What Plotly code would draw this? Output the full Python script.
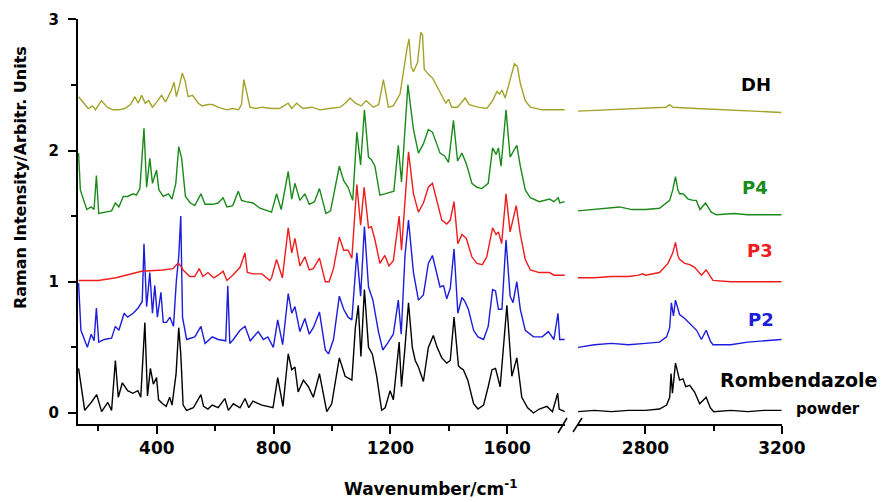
import plotly.graph_objects as go

# ---------------- data ----------------
# Rombendazole powder (black)
black_xl = [132,153,175,194,211,232,245,258,268,282,300,318,335,345,359,368,378,388,399,406,420,432,444,452,466,475,482,490,502,525,551,560,575,590,610,633,645,662,685,702,715,729,760,798,814,832,850,862,873,884,902,919,936,957,982,999,1025,1045,1068,1080,1090,1099,1111,1125,1138,1153,1170,1182,1199,1210,1230,1238,1250,1262,1275,1285,1296,1313,1330,1347,1360,1376,1393,1405,1418,1433,1442,1450,1465,1485,1500,1519,1535,1548,1560,1576,1599,1616,1633,1650,1670,1690,1710,1736,1755,1773,1778,1797]
black_yl = [0.34,0.02,0.08,0.14,0.01,0.08,0.02,0.40,0.12,0.23,0.17,0.15,0.17,0.12,0.69,0.13,0.34,0.22,0.27,0.10,0.07,0.05,0.12,0.06,0.30,0.65,0.45,0.06,0.02,0.04,0.14,0.05,0.03,0.06,0.04,0.11,0.02,0.07,0.04,0.11,0.04,0.09,0.06,0.04,0.27,0.05,0.45,0.33,0.35,0.16,0.25,0.20,0.12,0.30,0.01,0.07,0.42,0.28,0.25,0.65,0.82,0.43,0.94,0.50,0.45,0.28,0.02,0.04,0.17,0.10,0.54,0.20,0.50,0.84,0.50,0.40,0.35,0.24,0.50,0.59,0.50,0.42,0.38,0.40,0.73,0.36,0.34,0.33,0.25,0.07,0.03,0.06,0.20,0.33,0.34,0.20,0.82,0.28,0.42,0.12,0.04,0.00,0.03,0.05,0.01,0.15,0.03,0.01]
black_xr = [2602,2650,2700,2750,2800,2841,2862,2871,2875,2879,2888,2893,2900,2910,2918,2930,2944,2959,2978,2990,3000,3050,3100,3150,3199]
black_yr = [0.01,0.02,0.01,0.02,0.02,0.03,0.06,0.12,0.30,0.15,0.38,0.33,0.25,0.26,0.20,0.21,0.16,0.07,0.12,0.04,0.01,0.02,0.01,0.02,0.02]

# P2 (blue)
p2_xl = [132,140,162,175,185,193,201,220,245,258,270,288,300,319,336,350,356,365,376,385,393,402,414,422,433,445,457,467,475,482,488,502,530,551,565,590,610,636,643,650,662,685,702,720,747,765,780,799,814,831,850,862,873,890,907,922,936,957,977,988,1005,1025,1040,1055,1068,1085,1098,1111,1125,1140,1159,1174,1190,1210,1227,1237,1250,1262,1279,1296,1313,1330,1344,1355,1370,1382,1393,1405,1418,1431,1445,1455,1467,1485,1500,1519,1535,1550,1560,1570,1582,1596,1610,1620,1633,1645,1662,1690,1720,1741,1760,1774,1780,1797]
p2_yl = [0.99,0.63,0.50,0.60,0.55,0.80,0.54,0.56,0.57,0.66,0.63,0.76,0.73,0.76,0.80,0.85,1.29,0.81,1.07,0.76,0.97,0.73,0.92,0.69,0.69,0.73,0.66,1.01,1.19,1.50,0.73,0.56,0.58,0.66,0.53,0.58,0.56,0.55,0.97,0.53,0.56,0.63,0.66,0.55,0.62,0.56,0.58,0.50,0.71,0.52,0.91,0.76,0.81,0.62,0.72,0.60,0.65,0.77,0.48,0.45,0.56,0.89,0.79,0.73,0.71,1.22,0.89,1.42,0.96,0.86,0.62,0.48,0.53,0.60,0.86,0.60,1.20,1.47,1.07,0.86,0.90,1.14,1.20,1.10,0.96,0.97,0.87,0.95,1.25,0.76,0.88,0.85,0.79,0.63,0.58,0.56,0.66,0.94,0.93,0.79,0.79,1.32,0.89,0.84,1.00,0.79,0.63,0.58,0.58,0.62,0.56,0.76,0.56,0.56]
p2_xr = [2602,2650,2700,2750,2800,2841,2862,2871,2876,2882,2888,2895,2900,2915,2934,2950,2964,2978,2990,2998,3050,3100,3150,3199]
p2_yr = [0.50,0.52,0.53,0.52,0.53,0.54,0.58,0.65,0.84,0.74,0.86,0.80,0.75,0.72,0.67,0.63,0.56,0.63,0.55,0.52,0.52,0.54,0.55,0.56]

# P3 (red)
p3_xl = [132,200,260,348,420,455,467,475,490,513,530,545,558,575,595,610,627,640,660,685,702,710,730,760,787,793,810,830,850,862,873,890,907,922,936,957,977,990,1005,1025,1040,1055,1068,1085,1098,1110,1125,1135,1147,1164,1181,1195,1210,1230,1238,1252,1262,1279,1296,1313,1330,1344,1360,1376,1393,1405,1418,1431,1445,1460,1479,1496,1515,1530,1550,1562,1570,1581,1596,1610,1631,1645,1662,1679,1710,1745,1760,1797]
p3_yl = [1.01,1.01,1.03,1.08,1.09,1.10,1.13,1.14,1.09,1.04,1.04,1.10,1.04,1.07,1.03,1.05,1.08,1.01,1.05,1.11,1.22,1.07,1.06,1.06,1.01,1.03,1.17,1.03,1.41,1.22,1.33,1.12,1.19,1.09,1.10,1.18,1.00,1.00,1.10,1.34,1.24,1.24,1.18,1.74,1.43,1.72,1.41,1.42,1.32,1.14,1.20,1.12,1.16,1.50,1.24,1.70,1.99,1.67,1.53,1.60,1.72,1.75,1.60,1.47,1.44,1.47,1.61,1.29,1.36,1.33,1.19,1.14,1.13,1.19,1.41,1.36,1.38,1.29,1.67,1.38,1.58,1.36,1.17,1.09,1.07,1.07,1.05,1.05]
p3_xr = [2602,2650,2700,2750,2780,2792,2800,2841,2866,2880,2888,2895,2900,2915,2930,2944,2964,2978,2998,3050,3100,3150,3199]
p3_yr = [1.03,1.03,1.04,1.04,1.05,1.06,1.05,1.07,1.14,1.22,1.30,1.20,1.17,1.14,1.13,1.11,1.05,1.09,1.01,1.00,1.00,1.00,1.00]

# P4 (green)
p4_xl = [132,138,160,175,185,193,201,220,245,258,270,285,300,319,330,342,356,365,376,385,399,407,422,440,452,465,475,485,498,515,530,551,565,590,610,627,640,660,679,690,705,730,753,793,810,826,850,862,873,890,907,922,940,957,979,995,1010,1025,1040,1055,1071,1085,1098,1111,1125,1135,1147,1164,1181,1199,1212,1227,1238,1260,1279,1296,1313,1330,1344,1357,1370,1385,1399,1416,1430,1445,1460,1479,1496,1513,1535,1550,1562,1570,1579,1596,1610,1633,1645,1662,1679,1710,1745,1760,1775,1780,1797]
p4_yl = [1.98,1.70,1.55,1.57,1.55,1.81,1.52,1.53,1.54,1.60,1.57,1.65,1.65,1.67,1.66,1.71,2.17,1.72,1.94,1.75,1.85,1.70,1.65,1.67,1.63,1.75,2.03,1.94,1.65,1.60,1.58,1.67,1.59,1.59,1.60,1.64,1.57,1.58,1.69,1.62,1.61,1.60,1.56,1.53,1.67,1.55,1.84,1.63,1.75,1.62,1.67,1.59,1.61,1.71,1.52,1.54,1.70,1.88,1.77,1.72,1.62,2.14,1.89,2.31,1.95,1.93,1.88,1.66,1.67,1.68,1.69,2.04,1.76,2.50,2.16,1.98,2.05,2.16,2.14,2.06,1.98,1.96,1.91,2.23,1.92,1.98,1.90,1.75,1.72,1.71,1.75,2.02,1.97,2.02,1.88,2.31,1.95,2.04,1.88,1.70,1.64,1.61,1.63,1.61,1.64,1.60,1.61]
p4_xr = [2602,2650,2700,2724,2760,2800,2841,2871,2880,2888,2895,2900,2910,2925,2940,2949,2960,2976,2993,3008,3060,3100,3150,3199]
p4_yr = [1.54,1.55,1.56,1.57,1.55,1.55,1.56,1.62,1.70,1.80,1.70,1.67,1.67,1.63,1.62,1.62,1.55,1.60,1.53,1.51,1.52,1.51,1.51,1.51]

# DH (olive)
dh_xl = [132,140,165,180,190,210,230,250,270,290,310,325,336,348,360,372,385,400,416,430,450,459,467,479,487,497,507,522,542,555,575,590,610,639,660,680,690,698,710,719,740,760,793,820,850,862,879,900,930,959,990,1028,1045,1062,1080,1100,1117,1142,1160,1176,1193,1210,1233,1250,1257,1264,1271,1279,1293,1304,1310,1316,1330,1345,1359,1376,1390,1399,1410,1430,1445,1456,1470,1500,1530,1550,1565,1574,1582,1593,1610,1625,1635,1645,1662,1679,1720,1760,1797]
dh_yl = [2.41,2.39,2.32,2.34,2.31,2.38,2.33,2.31,2.31,2.32,2.35,2.41,2.36,2.42,2.36,2.38,2.33,2.37,2.42,2.37,2.46,2.52,2.41,2.51,2.59,2.53,2.41,2.42,2.36,2.34,2.35,2.35,2.33,2.31,2.32,2.31,2.35,2.54,2.41,2.33,2.32,2.33,2.32,2.32,2.36,2.32,2.36,2.32,2.33,2.31,2.32,2.33,2.36,2.40,2.36,2.34,2.38,2.33,2.35,2.54,2.33,2.34,2.43,2.70,2.78,2.85,2.64,2.60,2.67,2.90,2.88,2.62,2.58,2.55,2.49,2.41,2.36,2.39,2.33,2.33,2.37,2.40,2.35,2.33,2.32,2.38,2.45,2.43,2.46,2.40,2.54,2.66,2.64,2.51,2.38,2.33,2.31,2.31,2.31]
dh_xr = [2602,2700,2800,2860,2871,2880,2950,3050,3199]
dh_yr = [2.30,2.31,2.32,2.33,2.35,2.33,2.32,2.31,2.29]

labels = ["DH", "P4", "P3", "P2", "Rombendazole"]
colors = ["#a3a32c", "#1a8a1a", "#ee1c1c", "#1c1cdc", "#000000"]
label_colors = ["#000000", "#1a8a1a", "#ee1c1c", "#1c1cdc", "#000000"]

x_ticks_left = [400, 800, 1200, 1600]
x_ticks_right = [2800, 3200]
y_ticks = [0, 1, 2, 3]

# ---------------- figure ----------------
series = [
    (black_xl, black_yl, black_xr, black_yr, colors[4]),
    (p2_xl, p2_yl, p2_xr, p2_yr, colors[3]),
    (p3_xl, p3_yl, p3_xr, p3_yr, colors[2]),
    (p4_xl, p4_yl, p4_xr, p4_yr, colors[1]),
    (dh_xl, dh_yl, dh_xr, dh_yr, colors[0]),
]

fig = go.Figure()
for xl, yl, xr, yr, c in series:
    fig.add_trace(go.Scatter(x=xl, y=yl, xaxis="x", yaxis="y", mode="lines",
                             line=dict(color=c, width=1.4), showlegend=False, hoverinfo="skip"))
    fig.add_trace(go.Scatter(x=xr, y=yr, xaxis="x2", yaxis="y", mode="lines",
                             line=dict(color=c, width=1.4), showlegend=False, hoverinfo="skip"))

FONT = "DejaVu Sans"
W, H = 881, 502
ML, MR, MT, MB = 78, 99, 19, 78
PW = W - ML - MR
PH = H - MT - MB

def px(xp):
    return (xp - ML) / PW

def py(yp):
    return (H - MB - yp) / PH

common_x = dict(
    showline=True, linecolor="black", linewidth=2, mirror=False,
    ticks="outside", ticklen=8, tickwidth=1.5, tickcolor="black",
    showgrid=False, zeroline=False,
    tickfont=dict(family=FONT, size=17, color="black", weight="bold"),
    anchor="y",
)

fig.update_layout(
    width=W, height=H, autosize=False,
    margin=dict(l=ML, r=MR, t=MT, b=MB),
    plot_bgcolor="white", paper_bgcolor="white",
    xaxis=dict(domain=[0, px(565)], range=[130, 1798], tickmode="array",
               tickvals=x_ticks_left,
               minor=dict(ticks="outside", ticklen=5, tickwidth=1.5, tickcolor="black",
                          tickvals=[200, 600, 1000, 1400], showgrid=False),
               **common_x),
    xaxis2=dict(domain=[px(578), 1.0], range=[2602, 3200.5], tickmode="array",
                tickvals=x_ticks_right,
                minor=dict(ticks="outside", ticklen=5, tickwidth=1.5, tickcolor="black",
                           tickvals=[3000], showgrid=False),
                **common_x),
    yaxis=dict(domain=[0, 1], range=[-0.084, 3.002], tickmode="array", tickvals=y_ticks,
               showline=True, linecolor="black", linewidth=2,
               ticks="outside", ticklen=8, tickwidth=1.5, tickcolor="black",
               minor=dict(ticks="outside", ticklen=5, tickwidth=1.5, tickcolor="black",
                          tickvals=[0.5, 1.5, 2.5], showgrid=False),
               showgrid=False, zeroline=False, anchor="x", ticklabelstandoff=6,
               tickfont=dict(family=FONT, size=15, color="black", weight="bold")),
)

annotations = [
    dict(text="Wavenumber/cm<sup>-1</sup>", x=px(430), y=py(488), xref="paper", yref="paper",
         showarrow=False, xanchor="center", yanchor="middle",
         font=dict(family=FONT, size=17, color="black", weight="bold")),
    dict(text="Raman Intensity/Arbitr. Units", x=px(20), y=py(178), xref="paper", yref="paper",
         showarrow=False, xanchor="center", yanchor="middle", textangle=-90,
         font=dict(family=FONT, size=16, color="black", weight="bold")),
]
label_pos = [(756, 84, 18), (755, 187, 18), (760, 250, 18), (761, 320, 18)]
for text, col, (lx, ly, fs) in zip(labels[:4], label_colors[:4], label_pos):
    annotations.append(dict(text=text, x=px(lx), y=py(ly), xref="paper", yref="paper",
                            showarrow=False, xanchor="center", yanchor="middle",
                            font=dict(family=FONT, size=fs, color=col, weight="bold")))
annotations.append(dict(text=labels[4], x=px(798), y=py(380), xref="paper", yref="paper",
                        showarrow=False, xanchor="center", yanchor="middle",
                        font=dict(family=FONT, size=19, color=label_colors[4], weight="bold")))
annotations.append(dict(text="powder", x=px(828), y=py(409), xref="paper", yref="paper",
                        showarrow=False, xanchor="center", yanchor="middle",
                        font=dict(family=FONT, size=15, color="black", weight="bold")))
fig.update_layout(annotations=annotations)

# axis-break marks
shapes = []
for (x0, y0, x1, y1) in [(558, 433, 567, 418), (573, 432, 582, 418)]:
    shapes.append(dict(type="line", xref="paper", yref="paper",
                       x0=px(x0), y0=py(y0), x1=px(x1), y1=py(y1),
                       line=dict(color="black", width=1.5)))
fig.update_layout(shapes=shapes)

fig.write_html("out.html", config={"displayModeBar": False},
               post_script="document.body.style.margin='0px';document.body.style.overflow='hidden';")
